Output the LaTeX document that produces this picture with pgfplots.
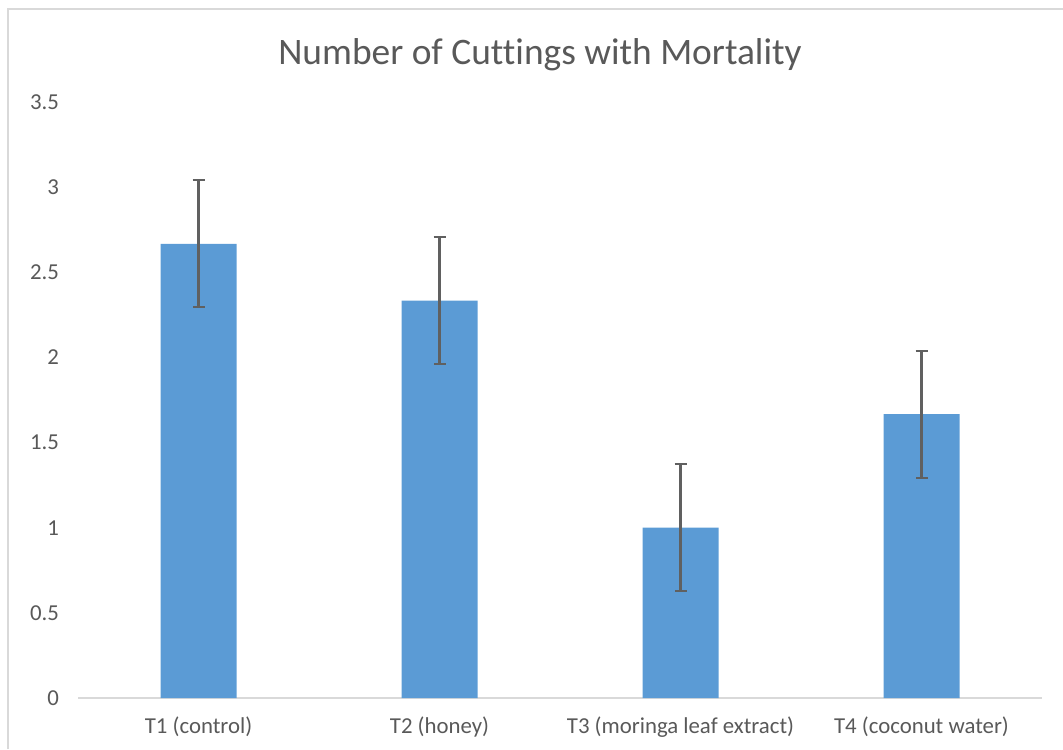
\documentclass[border=0pt]{standalone}
\usepackage{pgfplots}
\pgfplotsset{compat=1.18}
\usepackage{fontspec}
\setmainfont{Carlito}[Ligatures={NoCommon}]
\definecolor{barblue}{HTML}{5B9BD5}
\definecolor{txt}{HTML}{595959}
\definecolor{ln}{HTML}{D9D9D9}
\definecolor{err}{HTML}{606060}
\begin{document}
\begin{tikzpicture}
\path[use as bounding box] (-39pt,-25.5pt) rectangle (492.5pt,349pt);
\draw[ln, line width=0.9pt] (-35pt,-25.5pt) -- (-35pt,344.5pt) -- (492.5pt,344.5pt);
\begin{axis}[
  at={(0,0)}, anchor=south west,
  scale only axis, width=482pt, height=298pt,
  xmin=-0.5, xmax=3.5, ymin=0, ymax=3.5,
  xtick={0,1,2,3},
  xticklabels={T1 (control),T2 (honey),T3 (moringa leaf extract),T4 (coconut water)},
  ytick={0,0.5,1,1.5,2,2.5,3,3.5},
  yticklabels={0,0.5,1,1.5,2,2.5,3,3.5},
  major tick length=0pt,
  axis x line*=bottom, axis y line*=left,
  separate axis lines,
  x axis line style={draw=ln, line width=0.6pt, -},
  y axis line style={draw=none},
  ticklabel style={font=\fontsize{11.4}{13}\selectfont, text=txt},
  yticklabel style={anchor=east, xshift=-6pt},
  xticklabel style={anchor=north, yshift=-6pt},
  clip=false,
]
\addplot[ybar, bar width=38pt, fill=barblue, draw=none,
  error bars/.cd, y dir=both, y explicit,
  error bar style={err, line width=1.1pt},
  error mark options={rotate=90, mark size=3pt, err, line width=1.1pt}]
  table[x=x, y=y, y error=e] {
x y e
0 2.667 0.373
1 2.333 0.373
2 1.000 0.373
3 1.667 0.373
};
\end{axis}
\node[text=txt, font=\fontsize{18.7}{22}\selectfont] at (231pt,321.5pt) {Number of Cuttings with Mortality};
\end{tikzpicture}
\end{document}
